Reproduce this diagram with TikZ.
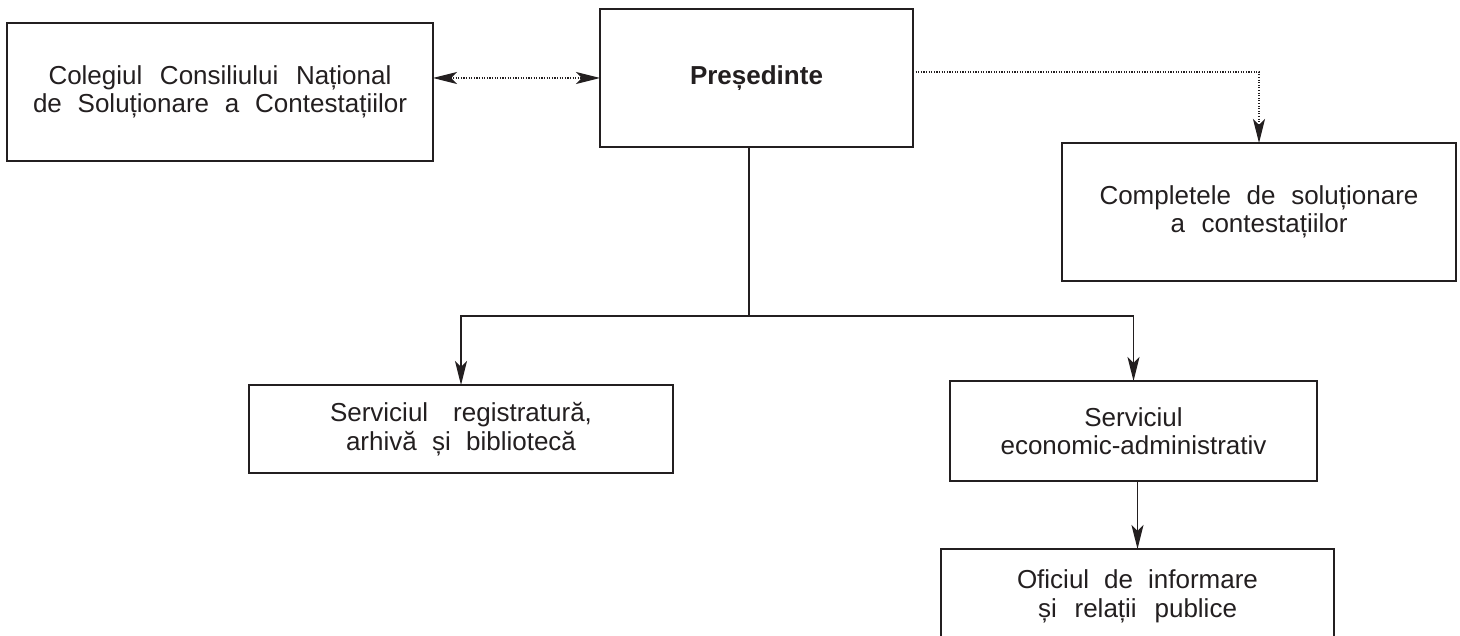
\documentclass[tikz,border=0pt]{standalone}
\usepackage{fontspec}
\setmainfont{Liberation Sans}
\usetikzlibrary{arrows.meta}
\definecolor{ink}{HTML}{231F20}
\newcommand{\jline}[2]{\makebox[#1][s]{#2}}
\begin{document}
\begin{tikzpicture}[x=1pt,y=-1pt,
  box/.style={draw=ink, line width=1.8pt, inner sep=0pt, outer sep=0pt,
    align=center, text=ink, font=\fontsize{26}{28.5}\selectfont},
  conn/.style={draw=ink, line width=1.5pt},
  dots/.style={draw=ink, line width=1.2pt, dash pattern=on 1.1pt off 1.5pt},
  tip/.tip={Stealth[length=24pt,width=12pt,inset=6pt]}]
\clip (0,0) rectangle (1460,636);
\fill[white] (0,0) rectangle (1460,636);
\node[box, minimum width=426pt, minimum height=138pt] (coleg) at (220,92)
  {\jline{343pt}{Colegiul Consiliului Național}\\\jline{374pt}{de Soluționare a Contestațiilor}};
\node[box, minimum width=313pt, minimum height=138pt] (pres) at (756.5,78)
  {\textbf{Președinte}};
\node[box, minimum width=394pt, minimum height=138pt] (compl) at (1259,212)
  {\jline{319pt}{Completele de soluționare}\\\jline{177pt}{a contestațiilor}};
\node[box, minimum width=424pt, minimum height=88pt] (reg) at (461,429)
  {\jline{262pt}{Serviciul registratură,}\\\jline{230pt}{arhivă și bibliotecă}};
\node[box, minimum width=367pt, minimum height=100pt] (econ) at (1133.5,431)
  {Serviciul\\economic-administrativ};
\node[box, minimum width=393pt, minimum height=95pt] (ofic) at (1137.5,596.5)
  {\jline{241pt}{Oficiul de informare}\\\jline{199pt}{și relații publice}};
\coordinate (hub) at (749,316);
\draw[dots, tip-tip] (pres.west -| coleg.east) -- (pres.west);
\draw[dots, -tip] ([yshift=6pt]pres.east) -| (compl.north);
\draw[conn] (pres.south -| hub) -- (hub);
\draw[conn, -tip] (hub) -| (reg.north);
\draw[conn, -tip] (hub) -| (econ.north);
\draw[conn, -tip] (econ.south -| ofic.north) -- (ofic.north);
\end{tikzpicture}
\end{document}
